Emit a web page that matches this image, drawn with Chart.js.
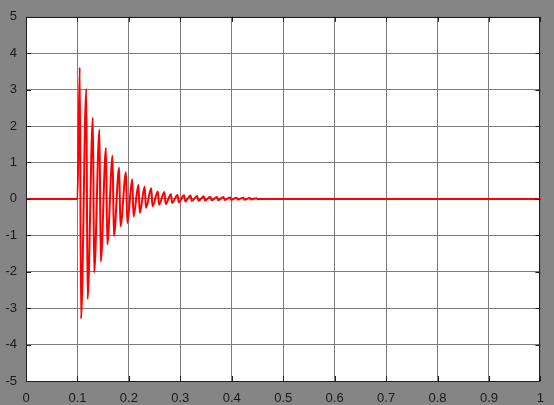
<!DOCTYPE html>
<html>
<head>
<meta charset="utf-8">
<script src="https://cdn.jsdelivr.net/npm/chart.js@4.4.1/dist/chart.umd.min.js"></script>
<style>
  html, body { margin: 0; padding: 0; background: #858585; }
  #wrap { width: 554px; height: 405px; }
</style>
</head>
<body>
<div id="wrap"><canvas id="c" width="554" height="405"></canvas></div>
<script>
// ---- data ----
const xTicks = [0, 0.1, 0.2, 0.3, 0.4, 0.5, 0.6, 0.7, 0.8, 0.9, 1];
const xTickLabels = ['0', '0.1', '0.2', '0.3', '0.4', '0.5', '0.6', '0.7', '0.8', '0.9', '1'];
const yTicks = [-5, -4, -3, -2, -1, 0, 1, 2, 3, 4, 5];
const yTickLabels = ['-5', '-4', '-3', '-2', '-1', '0', '1', '2', '3', '4', '5'];

const peakTimes = [0.1045, 0.1172, 0.1300, 0.1428, 0.1555, 0.1683, 0.1811, 0.1944, 0.2065, 0.2186,
                   0.2307, 0.2434, 0.2562, 0.2690, 0.2817, 0.2945, 0.3073, 0.3199, 0.3327, 0.3455,
                   0.3583, 0.3711, 0.3839, 0.3967, 0.4095, 0.4223, 0.4351, 0.4479];
const peakValues = [3.61, 3.02, 2.23, 1.90, 1.40, 1.19, 0.86, 0.73, 0.54, 0.39,
                    0.34, 0.29, 0.20, 0.19, 0.13, 0.11, 0.10, 0.09, 0.08, 0.07,
                    0.06, 0.05, 0.05, 0.04, 0.035, 0.03, 0.025, 0.02];
const troughTimes = [0.1070, 0.1197, 0.1325, 0.1453, 0.1580, 0.1708, 0.1836, 0.1969, 0.2090, 0.2211,
                     0.2332, 0.2459, 0.2587, 0.2715, 0.2842, 0.2970, 0.3098, 0.3224, 0.3352, 0.3480,
                     0.3608, 0.3736, 0.3864, 0.3992, 0.4120, 0.4248, 0.4376, 0.4504];
const troughValues = [-3.29, -2.75, -2.02, -1.72, -1.25, -1.02, -0.75, -0.66, -0.48, -0.39,
                      -0.25, -0.20, -0.16, -0.14, -0.11, -0.09, -0.07, -0.06, -0.05, -0.045,
                      -0.04, -0.035, -0.03, -0.025, -0.02, -0.02, -0.015, -0.01];
const startPoints = [[0, 0], [0.1, 0]];
const endPoints = [[0.456, 0], [1, 0]];

// build series
const points = [];
startPoints.forEach(p => points.push({x: p[0], y: p[1]}));
for (let i = 0; i < peakTimes.length; i++) {
  points.push({x: peakTimes[i], y: peakValues[i]});
  points.push({x: troughTimes[i], y: troughValues[i]});
}
endPoints.forEach(p => points.push({x: p[0], y: p[1]}));

const frame = {
  id: 'frame',
  beforeDraw(chart) {
    const {ctx, chartArea: a} = chart;
    ctx.save();
    ctx.fillStyle = '#858585';
    ctx.fillRect(0, 0, chart.width, chart.height);
    ctx.fillStyle = '#ffffff';
    ctx.fillRect(a.left, a.top, a.right - a.left, a.bottom - a.top);
    ctx.restore();
  },
  afterDatasetsDraw(chart) {
    const {ctx, chartArea: a, scales} = chart;
    ctx.save();
    ctx.strokeStyle = '#1e1e1e';
    ctx.lineWidth = 1;
    ctx.beginPath();
    const tl = 5;
    scales.y.ticks.forEach(t => {
      const py = Math.round(scales.y.getPixelForValue(t.value)) + 0.5;
      ctx.moveTo(a.left, py); ctx.lineTo(a.left + tl, py);
      ctx.moveTo(a.right, py); ctx.lineTo(a.right - tl, py);
    });
    scales.x.ticks.forEach(t => {
      const px = Math.round(scales.x.getPixelForValue(t.value)) + 0.5;
      ctx.moveTo(px, a.bottom); ctx.lineTo(px, a.bottom - tl);
      ctx.moveTo(px, a.top); ctx.lineTo(px, a.top + tl);
    });
    ctx.stroke();
    ctx.strokeRect(Math.round(a.left) + 0.5, Math.round(a.top) + 0.5,
                   Math.round(a.right - a.left) - 1, Math.round(a.bottom - a.top));
    ctx.restore();
  }
};

new Chart(document.getElementById('c'), {
  type: 'line',
  data: {
    datasets: [{
      data: points,
      borderColor: '#ff0000',
      borderWidth: 2,
      pointRadius: 0,
      cubicInterpolationMode: 'monotone',
      borderJoinStyle: 'round',
      fill: false
    }]
  },
  options: {
    responsive: false,
    devicePixelRatio: 1,
    animation: false,
    layout: { padding: { top: 13, right: 5, left: 0, bottom: 0 } },
    plugins: { legend: { display: false }, tooltip: { enabled: false } },
    scales: {
      x: {
        type: 'linear',
        min: 0, max: 1,
        afterBuildTicks(s) { s.ticks = xTicks.map(v => ({value: v})); },
        afterFit(s) { s.height = 24; },
        ticks: {
          callback: (v, i) => xTickLabels[i],
          color: '#1a1a1a',
          font: { family: 'Liberation Sans, Arial, sans-serif', size: 13 },
          padding: 10,
          maxRotation: 0,
          autoSkip: false
        },
        grid: { color: '#7c7c7c', lineWidth: 1, drawTicks: false },
        border: { display: false }
      },
      y: {
        type: 'linear',
        min: -5, max: 5,
        afterBuildTicks(s) { s.ticks = yTicks.map(v => ({value: v})); },
        afterFit(s) { s.width = 26; },
        ticks: {
          callback: (v, i) => yTickLabels[i],
          color: '#1a1a1a',
          font: { family: 'Liberation Sans, Arial, sans-serif', size: 13 },
          padding: 9,
          autoSkip: false
        },
        grid: { color: '#7c7c7c', lineWidth: 1, drawTicks: false },
        border: { display: false }
      }
    }
  },
  plugins: [frame]
});
</script>
</body>
</html>
